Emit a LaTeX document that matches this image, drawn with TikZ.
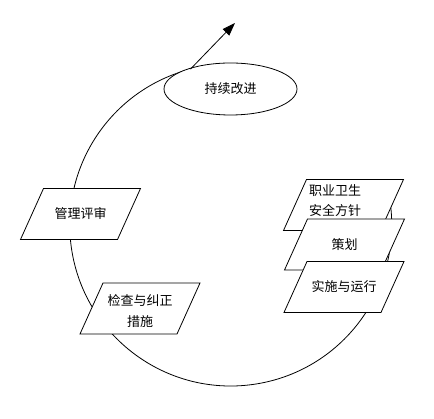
\documentclass[tikz,border=0pt]{standalone}
\usepackage{fontspec}
\newfontfamily\cjk{Noto Sans CJK SC}
\usetikzlibrary{shapes.geometric,arrows.meta}
\tikzset{
  stagetext/.style={inner sep=0pt, align=center,
    font=\cjk\fontsize{13}{20.5}\selectfont},
  goal/.style={ellipse, draw, fill=white, minimum width=133pt,
    minimum height=52pt, inner sep=0pt, font=\cjk\fontsize{13}{20.5}\selectfont}
}
% parallelogram box: [text shift]{name}{x}{y}{text}
\newcommand{\stagebox}[5][]{%
  \draw[fill=white] (#3,#4) ++(-60,-25.5) -- ++(97,0) -- ++(23,51) -- ++(-97,0) -- cycle;
  \node[stagetext,#1] (#2) at (#3,#4) {#5};}
\begin{document}
\begin{tikzpicture}[x=1pt, y=1pt, line width=0.8pt]
    \useasboundingbox (0,0) rectangle (434,419);
    \def\R{161}
    % Cycle
    \coordinate (O) at (230.75,194);
    \draw (O) ++(8:\R) arc (8:-255.5:\R) coordinate (top);
    \coordinate (tip) at (235,396);
    % Continuous improvement
    \node[goal] (improve) at (230.5,330) {持续改进};
    \draw[-{Triangle[length=13pt,width=9pt]}] (top) -- (tip);
    % Left stages
    \stagebox{review}{80.5}{205}{管理评审}
    \stagebox[yshift=-2.5pt]{check}{140}{110.5}{检查与纠正\\措施}
    % Right stack
    \stagebox[xshift=-8.5pt,yshift=4.5pt]{policy}{343.5}{214}{职业卫生\\安全方针}
    \stagebox{plan}{344.5}{174.5}{策划}
    \stagebox{run}{344}{132}{实施与运行}
\end{tikzpicture}
\end{document}
